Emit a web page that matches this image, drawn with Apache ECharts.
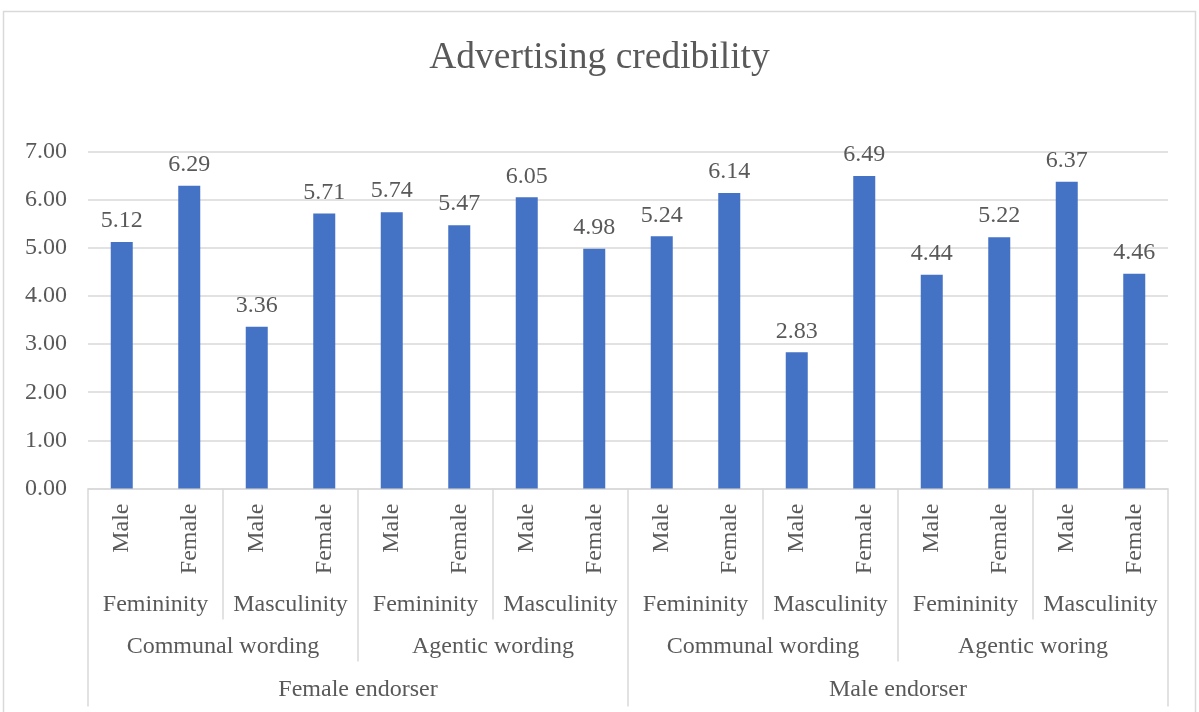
<!DOCTYPE html>
<html>
<head>
<meta charset="utf-8">
<script src="https://cdn.jsdelivr.net/npm/echarts@6/dist/echarts.min.js"></script>
<style>
  html, body { margin: 0; padding: 0; background: #fff; }
  #chart { width: 1199px; height: 712px; }
</style>
</head>
<body>
<div id="chart"></div>
<script>
var genders = ['Male', 'Female', 'Male', 'Female', 'Male', 'Female', 'Male', 'Female',
               'Male', 'Female', 'Male', 'Female', 'Male', 'Female', 'Male', 'Female'];
var traits = ['Femininity', 'Masculinity', 'Femininity', 'Masculinity',
              'Femininity', 'Masculinity', 'Femininity', 'Masculinity'];
var wordings = ['Communal wording', 'Agentic wording', 'Communal wording', 'Agentic woring'];
var endorsers = ['Female endorser', 'Male endorser'];
var credibility = [5.12, 6.29, 3.36, 5.71, 5.74, 5.47, 6.05, 4.98,
                   5.24, 6.14, 2.83, 6.49, 4.44, 5.22, 6.37, 4.46];

var font = '"Liberation Serif", "Times New Roman", serif';
var textColor = '#595959';
var lineColor = '#D9D9D9';
var fs = 24;

// one category axis per level of the grouped labels
function levelAxis(data, tickLen, margin) {
    return {
        type: 'category',
        data: data,
        position: 'bottom',
        axisLine: { show: false },
        axisTick: { show: true, interval: 0, length: tickLen, lineStyle: { color: lineColor, width: 1.5 } },
        axisLabel: { interval: 0, margin: margin, fontSize: fs, fontFamily: font, color: textColor },
        splitLine: { show: false }
    };
}

var chart = echarts.init(document.getElementById('chart'));
chart.setOption({
    animation: false,
    backgroundColor: '#fff',
    graphic: [{
        type: 'rect',
        shape: { x: 3.5, y: 11.5, width: 1192, height: 720 },
        style: { fill: 'none', stroke: lineColor, lineWidth: 1.5 }
    }],
    title: {
        text: 'Advertising credibility',
        left: 'center',
        top: 34,
        textStyle: { fontFamily: font, fontSize: 37.5, fontWeight: 'normal', color: textColor }
    },
    grid: { left: 88, right: 31, top: 151.5, bottom: 223.5, containLabel: false },
    xAxis: [
        {
            type: 'category',
            data: genders,
            position: 'bottom',
            axisLine: { show: true, lineStyle: { color: lineColor, width: 1.5 } },
            axisTick: { show: false },
            axisLabel: { interval: 0, rotate: 90, margin: 15, fontSize: fs, fontFamily: font, color: textColor }
        },
        levelAxis(traits, 131, 104),
        levelAxis(wordings, 173, 146),
        levelAxis(endorsers, 218, 189)
    ],
    yAxis: {
        type: 'value',
        min: 0,
        max: 7,
        interval: 1,
        axisLine: { show: false },
        axisTick: { show: false },
        splitLine: { lineStyle: { color: lineColor, width: 1.5 } },
        axisLabel: {
            margin: 21,
            fontSize: fs,
            fontFamily: font,
            color: textColor,
            formatter: function (v) { return v.toFixed(2); }
        }
    },
    series: [{
        type: 'bar',
        xAxisIndex: 0,
        data: credibility,
        barWidth: 22,
        itemStyle: { color: '#4472C4' },
        label: {
            show: true,
            position: 'top',
            distance: 9,
            fontSize: fs,
            fontFamily: font,
            color: textColor,
            formatter: function (p) { return p.value.toFixed(2); }
        }
    }]
});
</script>
</body>
</html>
